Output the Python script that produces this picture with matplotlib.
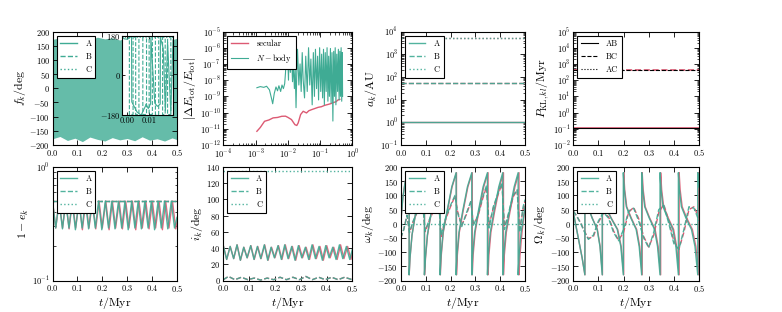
import numpy as np
import matplotlib
matplotlib.use('Agg')
from matplotlib import pyplot as plt
from matplotlib.lines import Line2D
from matplotlib.ticker import NullFormatter, LogLocator

plt.rcParams.update({
    'font.family': 'serif',
    'font.serif': ['cmr10'],
    'mathtext.fontset': 'cm',
    'axes.formatter.use_mathtext': True,
    'font.size': 6,
    'axes.linewidth': 0.8,
    'xtick.direction': 'in', 'ytick.direction': 'in',
    'xtick.top': True, 'ytick.right': True,
    'xtick.major.size': 3.5, 'ytick.major.size': 3.5,
    'xtick.minor.size': 1.8, 'ytick.minor.size': 1.8,
    'xtick.major.width': 0.6, 'ytick.major.width': 0.6,
    'xtick.minor.width': 0.5, 'ytick.minor.width': 0.5,
    'xtick.major.pad': 1.8, 'ytick.major.pad': 2,
    'xtick.labelsize': 6, 'ytick.labelsize': 6,
})

TEAL = '#3fab94'
RED = '#dc5a73'
LAB = 8.5
LEG = 6

# ---------------- data ----------------
# panel 1: envelope of the fast true-anomaly band
f_env_t = [0.0, 0.03, 0.06, 0.09, 0.12, 0.15, 0.18, 0.21, 0.24, 0.27, 0.30, 0.33, 0.36, 0.39, 0.42, 0.45, 0.48, 0.5]
f_env_hi = [172, 178, 170, 179, 175, 168, 180, 174, 178, 170, 179, 176, 172, 180, 174, 178, 171, 176]
f_env_lo = [-178, -170, -184, -176, -188, -172, -180, -186, -174, -182, -177, -185, -171, -183, -178, -186, -175, -181]

# inset (first 0.02 Myr)
ins_tA = [-0.0025, -0.0015, 0.0, 0.0019, 0.0020, 0.0044, 0.0063, 0.0085, 0.0086, 0.0096, 0.0107,
          0.0108, 0.0126, 0.0138, 0.0151, 0.0152, 0.0165, 0.0175, 0.0185, 0.0200, 0.021]
ins_fA = [175, 165, 163, 178, -120, -165, -180, -135, -130, -150, -128,
          170, -125, -140, -130, 172, 120, -160, 150, -170, 160]
ins_tB = [-0.0025, 0.0009, 0.0009, 0.0026, 0.0026, 0.0038, 0.0038, 0.0053, 0.0053, 0.0071, 0.0071,
          0.0088, 0.0088, 0.0100, 0.0100, 0.0115, 0.0115, 0.0129, 0.0129, 0.0144, 0.0144,
          0.0162, 0.0162, 0.0174, 0.0174, 0.0185, 0.0185, 0.0200, 0.0200, 0.021]
ins_fB = [176, 178, -178, -176, 178, 176, -178, -176, 178, 176, -178,
          -176, 178, 176, -178, -176, 178, 176, -178, -176, 178,
          176, -178, -176, 178, 176, -178, -176, 178, 176]
ins_tC = [-0.0025, 0.021]
ins_fC = [172, 171]

# panel 2: energy error
dE_sec_t = [1.1e-3, 1.4e-3, 1.9e-3, 2.6e-3, 3.5e-3, 4.8e-3, 6.5e-3, 8.5e-3, 1.0e-2, 1.3e-2, 1.66e-2,
            1.9e-2, 2.1e-2, 2.5e-2, 3.0e-2, 3.8e-2, 4.5e-2, 5.4e-2, 7.0e-2, 8.7e-2, 0.11, 0.14,
            0.18, 0.22, 0.26, 0.31, 0.36, 0.41]
dE_sec = [7e-12, 1.2e-11, 2.9e-11, 3.5e-11, 4.7e-11, 5.0e-11, 5.9e-11, 6.0e-11, 5.1e-11, 3.7e-11, 1.8e-11,
          1.6e-11, 2.3e-11, 7.6e-11, 1.2e-10, 9.5e-11, 1.3e-10, 1.5e-10, 1.8e-10, 2.1e-10, 2.3e-10, 2.8e-10,
          3.2e-10, 3.6e-10, 4.2e-10, 4.6e-10, 6.0e-10, 6.5e-10]
dE_nb_t = [1.1e-3, 1.4e-3, 1.8e-3, 2.2e-3, 2.7e-3, 3.1e-3, 3.4e-3, 3.8e-3, 4.3e-3, 4.8e-3, 5.3e-3,
           6.0e-3, 6.6e-3, 7.3e-3, 8.0e-3, 8.5e-3, 9.0e-3, 9.5e-3, 1.0e-2, 1.05e-2, 1.1e-2, 1.2e-2,
           1.3e-2, 1.4e-2, 1.5e-2, 1.6e-2, 1.7e-2, 1.8e-2, 1.9e-2, 2.0e-2, 2.2e-2, 2.4e-2, 2.6e-2,
           2.8e-2, 3.0e-2, 3.3e-2, 3.6e-2, 4.0e-2, 4.4e-2, 4.8e-2, 5.2e-2, 5.7e-2, 6.2e-2, 6.7e-2,
           7.2e-2, 7.8e-2, 8.4e-2, 9.0e-2, 9.7e-2, 0.105, 0.112, 0.12, 0.128, 0.136, 0.145, 0.155,
           0.165, 0.175, 0.185, 0.195, 0.21, 0.22, 0.235, 0.25, 0.265, 0.28, 0.295, 0.31, 0.33,
           0.35, 0.37, 0.39, 0.41, 0.43, 0.45, 0.47, 0.49, 0.50]
dE_nb = [3.4e-9, 4.0e-9, 3.6e-9, 4.2e-9, 2.5e-9, 8e-10, 3.5e-10, 1.5e-9, 3.8e-9, 2.2e-9, 4.5e-9,
         2.0e-9, 5.0e-9, 3.0e-9, 6e-9, 3e-8, 1e-6, 5e-8, 2e-7, 1e-8, 5e-7, 3e-8,
         6e-7, 8e-9, 1e-7, 3e-9, 4e-8, 2e-10, 3e-8, 8e-7, 5e-9, 1e-7, 2e-9,
         5e-7, 1e-8, 8e-10, 3e-7, 2e-9, 1e-6, 5e-9, 2e-7, 3e-10, 5e-7, 1e-9,
         8e-7, 3e-9, 3e-7, 6e-10, 1e-6, 2e-9, 4e-7, 8e-10, 8e-7, 3e-10, 5e-7, 2e-9,
         1e-6, 5e-10, 3e-7, 1e-9, 9e-7, 4e-10, 5e-7, 3e-11, 6e-7, 1e-9, 1e-6, 3e-10, 4e-7,
         2e-9, 8e-7, 6e-10, 6e-7, 1e-9, 1e-6, 5e-10, 5e-7, 1e-9]

# panel 3: semimajor axes [AU], panel 4: KL timescales [Myr]
t_span = [0.0, 0.5]
a_A = [1.0, 1.0]
a_B = [52.0, 52.0]
a_C = [5100.0, 5100.0]
P_AB = [0.105, 0.105]
P_BC = [400.0, 400.0]
P_AC = []

# panel 5/6: eccentricity and inclination extrema
ext_t_nb = [0.0, 0.013, 0.0265, 0.040, 0.053, 0.066, 0.079, 0.092, 0.106, 0.119, 0.132, 0.145, 0.159,
            0.172, 0.185, 0.198, 0.212, 0.225, 0.238, 0.251, 0.265, 0.278, 0.291, 0.304, 0.318, 0.331,
            0.344, 0.357, 0.371, 0.384, 0.397, 0.410, 0.424, 0.437, 0.450, 0.463, 0.477, 0.490, 0.5]
ext_t_sec = [0.0, 0.0131, 0.0268, 0.0404, 0.0536, 0.0667, 0.0798, 0.093, 0.107, 0.120, 0.1335, 0.1465,
             0.1605, 0.1737, 0.187, 0.200, 0.214, 0.2273, 0.2404, 0.2535, 0.2677, 0.2808, 0.294, 0.307,
             0.321, 0.3343, 0.3474, 0.3606, 0.3747, 0.3878, 0.401, 0.414, 0.428, 0.4414, 0.4545, 0.4676,
             0.4818, 0.4949, 0.5]
ome_A_nb = [0.50, 0.29, 0.50, 0.285, 0.50, 0.29, 0.50, 0.28, 0.50, 0.29, 0.50, 0.285, 0.50,
            0.29, 0.50, 0.28, 0.50, 0.29, 0.50, 0.285, 0.50, 0.29, 0.50, 0.28, 0.50, 0.29,
            0.50, 0.285, 0.50, 0.29, 0.50, 0.28, 0.50, 0.29, 0.50, 0.285, 0.50, 0.29, 0.36]
ome_A_sec = [0.50, 0.29, 0.50, 0.29, 0.50, 0.285, 0.50, 0.29, 0.50, 0.28, 0.50, 0.29, 0.50,
             0.285, 0.50, 0.29, 0.50, 0.28, 0.50, 0.29, 0.50, 0.285, 0.50, 0.29, 0.50, 0.28,
             0.50, 0.29, 0.50, 0.285, 0.50, 0.29, 0.50, 0.28, 0.50, 0.29, 0.50, 0.285, 0.33]
ome_B = [0.50, 0.50]
ome_C = [0.50, 0.50]
inc_A_nb = [43, 26, 42, 27, 44, 25, 41, 28, 43, 26, 42, 27, 44, 25, 41, 28, 43, 26, 44,
            27, 42, 25, 43, 28, 41, 26, 44, 27, 42, 25, 43, 28, 41, 26, 44, 27, 42, 26, 38]
inc_A_sec = [43, 26, 42, 27, 44, 25, 41, 28, 43, 26, 42, 27, 44, 25, 41, 28, 43, 26, 44,
             27, 42, 25, 43, 28, 41, 26, 44, 27, 42, 25, 43, 28, 41, 26, 44, 27, 42, 26, 34]
inc_B_t = [0.0, 0.02, 0.045, 0.07, 0.095, 0.12, 0.145, 0.17, 0.195, 0.22, 0.245, 0.27, 0.295,
           0.32, 0.345, 0.37, 0.395, 0.42, 0.445, 0.47, 0.5]
inc_B = [1, 5, 1, 4, 1, 3, 0.5, 3, 1, 4, 1, 4, 1, 5, 1, 4, 1, 4, 1, 4, 1]
inc_C = [135, 135]

# panel 7: argument of pericentre
om_A_t_nb = [0.000, 0.008, 0.018, 0.0335, 0.0335, 0.037, 0.045, 0.060, 0.080, 0.095, 0.095, 0.099,
             0.107, 0.122, 0.142, 0.158, 0.158, 0.162, 0.170, 0.185, 0.205, 0.2225, 0.2225, 0.226,
             0.234, 0.249, 0.268, 0.2855, 0.2855, 0.289, 0.297, 0.312, 0.331, 0.3485, 0.3485, 0.352,
             0.360, 0.375, 0.394, 0.410, 0.410, 0.414, 0.422, 0.437, 0.456, 0.472, 0.472, 0.476,
             0.484, 0.500]
om_A_nb = [5, 90, 150, 180, -180, -120, -40, 40, 130, 180, -180, -120,
           -40, 40, 130, 180, -180, -110, -30, 40, 130, 180, -180, -110,
           -30, 45, 130, 180, -180, -110, -30, 45, 130, 180, -180, -110,
           -30, 45, 130, 180, -180, -110, -30, 45, 130, 180, -180, -110,
           -30, 60]
om_A_t_sec = [0.000, 0.008, 0.018, 0.0337, 0.0337, 0.0372, 0.0452, 0.0603, 0.0803, 0.0955, 0.0955, 0.0995,
              0.1075, 0.1227, 0.1428, 0.159, 0.159, 0.163, 0.171, 0.186, 0.2063, 0.224, 0.224, 0.2275,
              0.2355, 0.2508, 0.2698, 0.2875, 0.2875, 0.291, 0.299, 0.3142, 0.3335, 0.351, 0.351, 0.3545,
              0.3625, 0.3778, 0.397, 0.413, 0.413, 0.4165, 0.4245, 0.4398, 0.459, 0.4755, 0.4755, 0.4795,
              0.4875, 0.500]
om_B_t = [0.0, 0.012, 0.025, 0.035, 0.05, 0.07, 0.088, 0.098, 0.115, 0.135, 0.152, 0.162, 0.18,
          0.2, 0.218, 0.228, 0.245, 0.265, 0.282, 0.292, 0.31, 0.33, 0.345, 0.355, 0.372, 0.392,
          0.407, 0.417, 0.434, 0.452, 0.468, 0.478, 0.492, 0.5]
om_B_nb = [-50, -20, 30, -30, 10, 50, 70, -25, 15, 55, 85, -40, 20, 65, 100, 40, -10, 40, 80,
           -5, 30, 95, 135, -15, 60, 110, 145, -20, 40, 100, 120, -30, 60, 85]
om_B_sec = [-50, -20, 30, -32, 8, 48, 68, -28, 12, 52, 82, -45, 15, 60, 98, 45, -5, 35, 78,
            0, 25, 90, 130, -5, 55, 105, 140, -10, 35, 95, 118, -20, 50, 80]
om_C = [0, 0]

# panel 8: longitude of ascending node
Om_A_t_nb = [0.000, 0.010, 0.022, 0.035, 0.046, 0.046, 0.050, 0.058, 0.075, 0.095, 0.106, 0.115,
             0.115, 0.119, 0.128, 0.150, 0.175, 0.189, 0.199, 0.199, 0.203, 0.211, 0.229, 0.250,
             0.262, 0.272, 0.272, 0.276, 0.284, 0.302, 0.323, 0.335, 0.345, 0.345, 0.349, 0.357,
             0.375, 0.396, 0.408, 0.418, 0.418, 0.422, 0.430, 0.448, 0.470, 0.484, 0.495, 0.495,
             0.500]
Om_A_nb = [40, -5, -60, -120, -180, 180, 120, 60, 20, -20, -80, -180,
           180, 120, 60, 20, -20, -80, -180, 180, 120, 60, 20, -20,
           -80, -180, 180, 120, 60, 20, -20, -80, -180, 180, 120, 60,
           20, -20, -80, -180, 180, 120, 60, 20, -20, -80, -180, 180,
           130]
Om_A_t_sec = [0.000, 0.010, 0.022, 0.0352, 0.0463, 0.0463, 0.0503, 0.0583, 0.0755, 0.0957, 0.1068, 0.116,
              0.116, 0.120, 0.129, 0.151, 0.1765, 0.1905, 0.2005, 0.2005, 0.2045, 0.2125, 0.2307, 0.252,
              0.264, 0.274, 0.274, 0.278, 0.286, 0.304, 0.3255, 0.3375, 0.3475, 0.3475, 0.3515, 0.3595,
              0.3778, 0.399, 0.411, 0.421, 0.421, 0.425, 0.433, 0.4512, 0.4735, 0.4875, 0.4985, 0.4985,
              0.500]
Om_B_t = [0.0, 0.015, 0.03, 0.045, 0.06, 0.08, 0.1, 0.12, 0.14, 0.16, 0.18, 0.2, 0.22, 0.24,
          0.26, 0.28, 0.3, 0.32, 0.34, 0.36, 0.38, 0.4, 0.42, 0.44, 0.46, 0.48, 0.5]
Om_B_nb = [45, 25, 0, -30, -55, -40, 10, 40, 20, -30, -60, -20, 45, 55, 10, -50, -85, -30,
           50, 65, 0, -70, -90, -20, 60, 55, 10]
Om_B_sec = [45, 25, 2, -28, -52, -45, 5, 38, 25, -25, -58, -30, 40, 58, 18, -45, -82, -40,
            40, 68, 10, -62, -90, -30, 50, 60, 20]
Om_C = [0, 0]

# ---------------- figure ----------------
fig = plt.figure(figsize=(7.82, 3.12), dpi=100)
W, H = 782.0, 312.0
cols = [(52.5, 124.5), (223.3, 129.0), (400.8, 124.3), (573.3, 125.7)]
rows = [(31.5, 145.0), (167.0, 280.5)]


def make_ax(r, c):
    x0, w = cols[c]
    top, bot = rows[r]
    return fig.add_axes([x0 / W, 1 - bot / H, w / W, (bot - top) / H])


def legend(ax, handles=None, labels=None):
    opts = dict(loc='upper left', fontsize=LEG, fancybox=False, edgecolor='black',
                framealpha=1, handlelength=2.0, handletextpad=1.0, labelspacing=0.55,
                borderpad=0.45, borderaxespad=0.5)
    if handles is None:
        leg = ax.legend(**opts)
    else:
        leg = ax.legend(handles, labels, **opts)
    leg.get_frame().set_linewidth(0.8)
    return leg


def every_decade(axis):
    axis.set_major_locator(LogLocator(base=10, numticks=20))
    axis.set_minor_locator(LogLocator(base=10, subs=np.arange(2, 10), numticks=20))
    axis.set_minor_formatter(NullFormatter())


tticks = [0.0, 0.1, 0.2, 0.3, 0.4, 0.5]
kw_nb = dict(color=TEAL, lw=1.0, alpha=0.9)
kw_sec = dict(color=RED, lw=1.0, alpha=0.9)

# panel 1
ax = make_ax(0, 0)
ax.fill_between(f_env_t, f_env_lo, f_env_hi, color=TEAL, alpha=0.8, lw=0)
ax.set_xlim(0, 0.5)
ax.set_ylim(-200, 200)
ax.set_xticks(tticks)
ax.set_yticks(range(-200, 201, 50))
ax.set_ylabel(r'$f_k/\mathrm{deg}$', fontsize=LAB, labelpad=1)
hs = [Line2D([], [], color=TEAL, ls='-', lw=1), Line2D([], [], color=TEAL, ls='--', lw=1),
      Line2D([], [], color=TEAL, ls=':', lw=1)]
legend(ax, hs, ['A', 'B', 'C'])

axi = fig.add_axes([122 / W, 1 - 115.2 / H, 51 / W, 79.7 / H])
axi.plot(ins_tB, ins_fB, color=TEAL, ls='--', lw=0.8)
axi.plot(ins_tA, ins_fA, color=TEAL, ls='-', lw=0.8)
axi.plot(ins_tC, ins_fC, color=TEAL, ls=':', lw=0.8)
axi.set_xlim(-0.0025, 0.021)
axi.set_ylim(-180, 180)
axi.set_xticks([0.0, 0.01])
axi.set_xticklabels(['0.00', '0.01'])
axi.set_yticks([-180, 0, 180])
axi.tick_params(labelsize=6, length=2, pad=1)

# panel 2
ax = make_ax(0, 1)
ax.plot(dE_sec_t, dE_sec, color=RED, lw=1.0, label='secular')
ax.plot(dE_nb_t, dE_nb, color=TEAL, lw=0.8, label=r'$N-$body')
ax.set_xscale('log')
ax.set_yscale('log')
ax.set_xlim(1e-4, 1)
ax.set_ylim(1e-12, 1e-5)
every_decade(ax.xaxis)
every_decade(ax.yaxis)
ax.set_ylabel(r'$|\Delta E_\mathrm{tot}/E_\mathrm{tot}|$', fontsize=LAB, labelpad=1)
legend(ax)

# panel 3
ax = make_ax(0, 2)
for vals, ls in [(a_A, '-'), (a_B, '--'), (a_C, ':')]:
    ax.plot(t_span, vals, color=RED, ls=ls, lw=1.0)
for vals, ls, lab in [(a_A, '-', 'A'), (a_B, '--', 'B'), (a_C, ':', 'C')]:
    ax.plot(t_span, vals, ls=ls, label=lab, **kw_nb)
ax.set_yscale('log')
ax.set_xlim(0, 0.5)
ax.set_ylim(1e-1, 1e4)
every_decade(ax.yaxis)
ax.set_xticks(tticks)
ax.set_ylabel(r'$a_k/\mathrm{AU}$', fontsize=LAB, labelpad=1)
legend(ax)

# panel 4
ax = make_ax(0, 3)
ax.plot(t_span, P_AB, color=RED, ls='-', lw=1.2)
ax.plot(t_span, P_BC, color=RED, ls='--', lw=1.2)
ax.plot(t_span, P_AB, color='black', ls='-', lw=0.8, label='AB')
ax.plot(t_span, P_BC, color='black', ls='--', lw=0.8, label='BC')
ax.plot(t_span[:len(P_AC)], P_AC, color='black', ls=':', lw=0.8, label='AC')
ax.set_yscale('log')
ax.set_xlim(0, 0.5)
ax.set_ylim(1e-2, 1e5)
every_decade(ax.yaxis)
ax.set_xticks(tticks)
ax.set_ylabel(r'$P_{\mathrm{KL},kl}/\mathrm{Myr}$', fontsize=LAB, labelpad=1)
legend(ax)

# panel 5
ax = make_ax(1, 0)
ax.plot(ext_t_sec, ome_A_sec, **kw_sec)
ax.plot(t_span, ome_B, color=RED, ls='--', lw=1.0)
ax.plot(ext_t_nb, ome_A_nb, ls='-', label='A', **kw_nb)
ax.plot(t_span, ome_B, ls='--', label='B', **kw_nb)
ax.plot(t_span, ome_C, ls=':', label='C', **kw_nb)
ax.set_yscale('log')
ax.set_xlim(0, 0.5)
ax.set_ylim(1e-1, 1e0)
every_decade(ax.yaxis)
ax.set_xticks(tticks)
ax.set_ylabel(r'$1-e_k$', fontsize=LAB, labelpad=1)
ax.set_xlabel(r'$t/\mathrm{Myr}$', fontsize=LAB, labelpad=1)
legend(ax)

# panel 6
ax = make_ax(1, 1)
ax.plot(ext_t_sec, inc_A_sec, **kw_sec)
ax.plot(inc_B_t, inc_B, color=RED, ls='--', lw=1.0)
ax.plot(ext_t_nb, inc_A_nb, ls='-', label='A', **kw_nb)
ax.plot(inc_B_t, inc_B, ls='--', label='B', **kw_nb)
ax.plot(t_span, inc_C, ls=':', label='C', **kw_nb)
ax.set_xlim(0, 0.5)
ax.set_ylim(0, 140)
ax.set_xticks(tticks)
ax.set_yticks(range(0, 141, 20))
ax.set_ylabel(r'$i_k/\mathrm{deg}$', fontsize=LAB, labelpad=1)
ax.set_xlabel(r'$t/\mathrm{Myr}$', fontsize=LAB, labelpad=1)
legend(ax)

# panel 7
ax = make_ax(1, 2)
ax.plot(om_A_t_sec, om_A_nb, **kw_sec)
ax.plot(om_B_t, om_B_sec, color=RED, ls='--', lw=1.0)
ax.plot(om_A_t_nb, om_A_nb, ls='-', label='A', **kw_nb)
ax.plot(om_B_t, om_B_nb, ls='--', label='B', **kw_nb)
ax.plot(t_span, om_C, ls=':', label='C', **kw_nb)
ax.set_xlim(0, 0.5)
ax.set_ylim(-200, 200)
ax.set_xticks(tticks)
ax.set_yticks(range(-200, 201, 50))
ax.set_ylabel(r'$\omega_k/\mathrm{deg}$', fontsize=LAB, labelpad=1)
ax.set_xlabel(r'$t/\mathrm{Myr}$', fontsize=LAB, labelpad=1)
legend(ax)

# panel 8
ax = make_ax(1, 3)
ax.plot(Om_A_t_sec, Om_A_nb, **kw_sec)
ax.plot(Om_B_t, Om_B_sec, color=RED, ls='--', lw=1.0)
ax.plot(Om_A_t_nb, Om_A_nb, ls='-', label='A', **kw_nb)
ax.plot(Om_B_t, Om_B_nb, ls='--', label='B', **kw_nb)
ax.plot(t_span, Om_C, ls=':', label='C', **kw_nb)
ax.set_xlim(0, 0.5)
ax.set_ylim(-200, 200)
ax.set_xticks(tticks)
ax.set_yticks(range(-200, 201, 50))
ax.set_ylabel(r'$\Omega_k/\mathrm{deg}$', fontsize=LAB, labelpad=1)
ax.set_xlabel(r'$t/\mathrm{Myr}$', fontsize=LAB, labelpad=1)
legend(ax)

fig.savefig('out.png', dpi=100)
